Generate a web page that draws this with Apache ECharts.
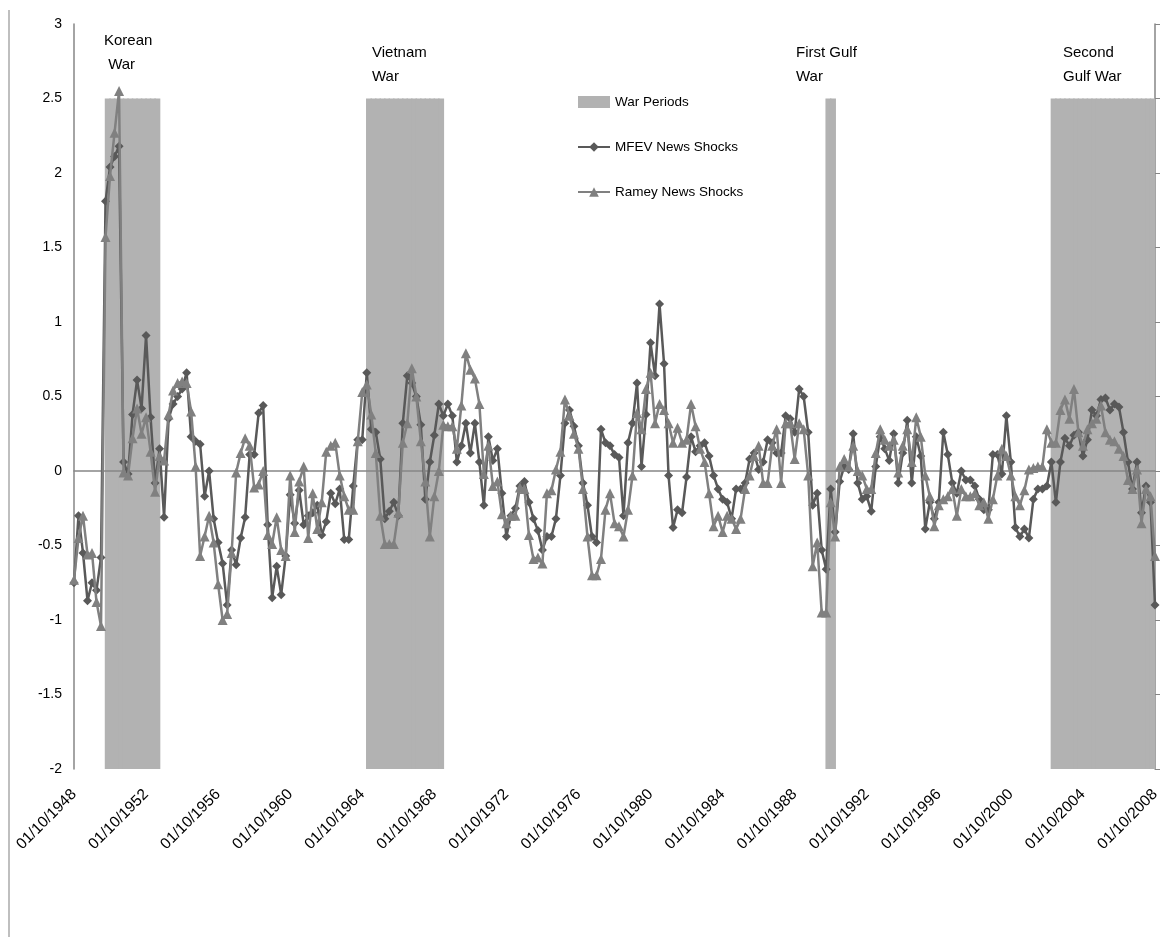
<!DOCTYPE html>
<html>
<head>
<meta charset="utf-8">
<script src="https://cdn.jsdelivr.net/npm/echarts@6/dist/echarts.min.js"></script>
<style>
html,body{margin:0;padding:0;background:#fff;}
#chart{width:1175px;height:937px;}
</style>
</head>
<body>
<div id="chart"></div>
<script>
// Quarterly observations, 1948 Q4 (01/10/1948) .. 2008 Q4 (01/10/2008)
const startYear = 1948, startQuarter = 4, nQuarters = 241;

const mfevNewsShocks = [
-0.75,-0.30,-0.55,-0.87,-0.75,-0.80,-0.58,1.81,2.04,2.11,
2.18,0.06,-0.02,0.38,0.61,0.42,0.91,0.36,-0.08,0.15,
-0.31,0.35,0.45,0.50,0.55,0.66,0.23,0.20,0.18,-0.17,
0.00,-0.32,-0.48,-0.62,-0.90,-0.53,-0.63,-0.45,-0.31,0.11,
0.11,0.39,0.44,-0.36,-0.85,-0.64,-0.83,-0.57,-0.16,-0.35,
-0.13,-0.36,-0.30,-0.28,-0.23,-0.43,-0.34,-0.15,-0.22,-0.12,
-0.46,-0.46,-0.10,0.21,0.21,0.66,0.28,0.26,0.08,-0.32,
-0.27,-0.21,-0.30,0.32,0.64,0.59,0.50,0.31,-0.19,0.06,
0.24,0.45,0.37,0.45,0.37,0.06,0.17,0.32,0.12,0.32,
0.06,-0.23,0.23,0.07,0.15,-0.15,-0.44,-0.30,-0.25,-0.10,
-0.07,-0.21,-0.32,-0.40,-0.53,-0.44,-0.44,-0.32,-0.03,0.32,
0.41,0.30,0.17,-0.08,-0.23,-0.44,-0.48,0.28,0.19,0.17,
0.11,0.09,-0.30,0.19,0.32,0.59,0.03,0.38,0.86,0.64,
1.12,0.72,-0.03,-0.38,-0.26,-0.28,-0.04,0.23,0.13,0.17,
0.19,0.10,-0.03,-0.12,-0.19,-0.21,-0.32,-0.12,-0.12,-0.08,
0.08,0.12,0.01,0.06,0.21,0.19,0.12,0.12,0.37,0.35,
0.26,0.55,0.50,0.26,-0.23,-0.15,-0.53,-0.66,-0.12,-0.41,
-0.07,0.03,0.01,0.25,-0.08,-0.19,-0.17,-0.27,0.03,0.23,
0.15,0.07,0.25,-0.08,0.12,0.34,-0.08,0.23,0.10,-0.39,
-0.21,-0.32,-0.21,0.26,0.11,-0.08,-0.15,0.00,-0.06,-0.06,
-0.10,-0.19,-0.26,-0.26,0.11,0.11,-0.02,0.37,0.06,-0.38,
-0.44,-0.39,-0.45,-0.19,-0.12,-0.12,-0.10,0.06,-0.21,0.06,
0.22,0.17,0.24,0.26,0.10,0.21,0.41,0.37,0.48,0.49,
0.41,0.45,0.43,0.26,0.06,-0.12,0.06,-0.28,-0.10,-0.21,
-0.90
];

const rameyNewsShocks = [
-0.73,-0.45,-0.30,-0.56,-0.55,-0.88,-1.04,1.57,1.98,2.27,
2.55,-0.01,-0.03,0.22,0.42,0.25,0.36,0.13,-0.14,0.10,
0.07,0.38,0.54,0.59,0.60,0.59,0.40,0.03,-0.57,-0.44,
-0.30,-0.48,-0.76,-1.00,-0.96,-0.55,-0.01,0.12,0.22,0.17,
-0.11,-0.09,0.00,-0.43,-0.49,-0.31,-0.53,-0.57,-0.03,-0.41,
-0.07,0.03,-0.45,-0.15,-0.39,-0.21,0.13,0.17,0.19,-0.03,
-0.17,-0.26,-0.26,0.20,0.53,0.58,0.38,0.12,-0.30,-0.49,
-0.49,-0.49,-0.28,0.19,0.32,0.69,0.50,0.20,-0.07,-0.44,
-0.17,0.00,0.31,0.30,0.30,0.15,0.44,0.79,0.68,0.62,
0.45,-0.02,0.17,-0.10,-0.07,-0.29,-0.35,-0.30,-0.30,-0.11,
-0.12,-0.43,-0.59,-0.58,-0.62,-0.15,-0.13,0.01,0.13,0.48,
0.37,0.25,0.15,-0.12,-0.44,-0.70,-0.70,-0.59,-0.26,-0.15,
-0.35,-0.37,-0.44,-0.26,-0.03,0.39,0.28,0.55,0.66,0.32,
0.45,0.41,0.32,0.19,0.29,0.19,0.21,0.45,0.30,0.15,
0.06,-0.15,-0.37,-0.30,-0.41,-0.30,-0.32,-0.39,-0.32,-0.12,
-0.03,0.10,0.17,-0.08,-0.08,0.17,0.28,-0.08,0.32,0.32,
0.08,0.32,0.28,-0.03,-0.64,-0.48,-0.95,-0.95,-0.21,-0.44,
0.03,0.08,0.03,0.17,0.00,-0.03,-0.12,-0.12,0.12,0.28,
0.21,0.17,0.21,-0.01,0.17,0.28,0.06,0.36,0.23,-0.03,
-0.17,-0.37,-0.23,-0.19,-0.17,-0.12,-0.30,-0.12,-0.17,-0.17,
-0.15,-0.23,-0.21,-0.32,-0.19,-0.03,0.15,0.10,-0.03,-0.17,
-0.23,-0.13,0.01,0.02,0.03,0.03,0.28,0.19,0.19,0.41,
0.48,0.35,0.55,0.26,0.17,0.28,0.32,0.35,0.44,0.26,
0.21,0.20,0.15,0.10,-0.06,-0.12,0.01,-0.35,-0.12,-0.17,
-0.57
];

// War periods (first and last quarter shaded)
const warPeriods = [
  {name: 'Korean War',      from: '01/07/1950', to: '01/04/1953'},
  {name: 'Vietnam War',     from: '01/01/1965', to: '01/01/1969'},
  {name: 'First Gulf War',  from: '01/07/1990', to: '01/10/1990'},
  {name: 'Second Gulf War', from: '01/01/2003', to: '01/07/2008'}
];
const warBarHeight = 4.5;   // on the secondary (right) axis 0..5

const warLabels = [
  {text: 'Korean\n War',     x: 104,  y: 29},
  {text: 'Vietnam\nWar',     x: 372,  y: 41},
  {text: 'First Gulf\nWar',  x: 796,  y: 41},
  {text: 'Second\nGulf War', x: 1063, y: 41}
];

const yTicks = {min: -2, max: 3, interval: 0.5};

// ---- build category labels (dd/mm/yyyy, first day of quarter) ----
const months = ['01','04','07','10'];
const dates = [];
for (let k = 0; k < nQuarters; k++) {
  const q = startQuarter - 1 + k;
  const y = startYear + Math.floor(q / 4);
  dates.push('01/' + months[q % 4] + '/' + y);
}
const barCats = dates.slice(0, nQuarters - 1);
const warBars = barCats.map((d, i) => {
  for (const w of warPeriods) {
    const a = dates.indexOf(w.from), b = dates.indexOf(w.to);
    if (i >= a && i <= b) return warBarHeight;
  }
  return null;
});

const FONT = 'Liberation Sans';
const chart = echarts.init(document.getElementById('chart'));
chart.setOption({
  animation: false,
  backgroundColor: '#fff',
  grid: {left: 74, right: 20, top: 24, bottom: 168, containLabel: false},
  legend: {
    orient: 'vertical',
    left: 572, top: 90,
    itemWidth: 32, itemHeight: 12, itemGap: 31,
    textStyle: {fontFamily: FONT, fontSize: 13.5, color: '#000'},
    data: [
      {name: 'War Periods', icon: 'rect'},
      {name: 'MFEV News Shocks'},
      {name: 'Ramey News Shocks'}
    ]
  },
  xAxis: [
    {
      type: 'category', data: dates, boundaryGap: false, position: 'bottom',
      axisLine: {show: false}, axisTick: {show: false},
      axisLabel: {interval: 15, rotate: 45, margin: 23, fontFamily: FONT, fontSize: 15.5, color: '#000'},
      splitLine: {show: false}
    },
    {
      type: 'category', data: barCats, boundaryGap: true, position: 'bottom',
      axisLine: {show: true, onZero: true, onZeroAxisIndex: 0, lineStyle: {color: '#868686', width: 1.5}},
      axisTick: {show: false}, axisLabel: {show: false}, splitLine: {show: false},
      z: 2
    }
  ],
  yAxis: [
    {
      type: 'value', min: yTicks.min, max: yTicks.max, interval: yTicks.interval,
      axisLine: {show: true, lineStyle: {color: '#868686', width: 1.5}},
      axisTick: {show: false},
      splitLine: {show: false},
      axisLabel: {margin: 12, fontFamily: FONT, fontSize: 14, color: '#000'}
    },
    {
      type: 'value', position: 'right', min: 0, max: 5, interval: 0.5,
      axisLine: {show: true, lineStyle: {color: '#868686', width: 1.5}},
      axisTick: {show: true, length: 5, lineStyle: {color: '#868686'}},
      axisLabel: {show: false}, splitLine: {show: false}
    }
  ],
  series: [
    {
      name: 'War Periods', type: 'bar', xAxisIndex: 1, yAxisIndex: 1,
      data: warBars, barWidth: 6, barGap: '-100%',
      itemStyle: {color: '#b2b2b2'}, z: 1
    },
    {
      name: 'MFEV News Shocks', type: 'line', xAxisIndex: 0, yAxisIndex: 0,
      data: mfevNewsShocks, symbol: 'diamond', symbolSize: 9, showAllSymbol: true,
      itemStyle: {color: '#595959'}, lineStyle: {color: '#595959', width: 2.5}, z: 3
    },
    {
      name: 'Ramey News Shocks', type: 'line', xAxisIndex: 0, yAxisIndex: 0,
      data: rameyNewsShocks, symbol: 'triangle', symbolSize: 10, showAllSymbol: true,
      itemStyle: {color: '#808080'}, lineStyle: {color: '#808080', width: 2.5}, z: 4
    }
  ],
  graphic: [
    {type: 'line', shape: {x1: 9, y1: 10, x2: 9, y2: 937}, style: {stroke: '#aaaaaa', lineWidth: 1.5}, silent: true}
  ].concat(warLabels.map(l => ({
    type: 'text', left: l.x, top: l.y,
    style: {text: l.text, font: '15px ' + FONT, fill: '#000', lineHeight: 24}
  })))
});
</script>
</body>
</html>
